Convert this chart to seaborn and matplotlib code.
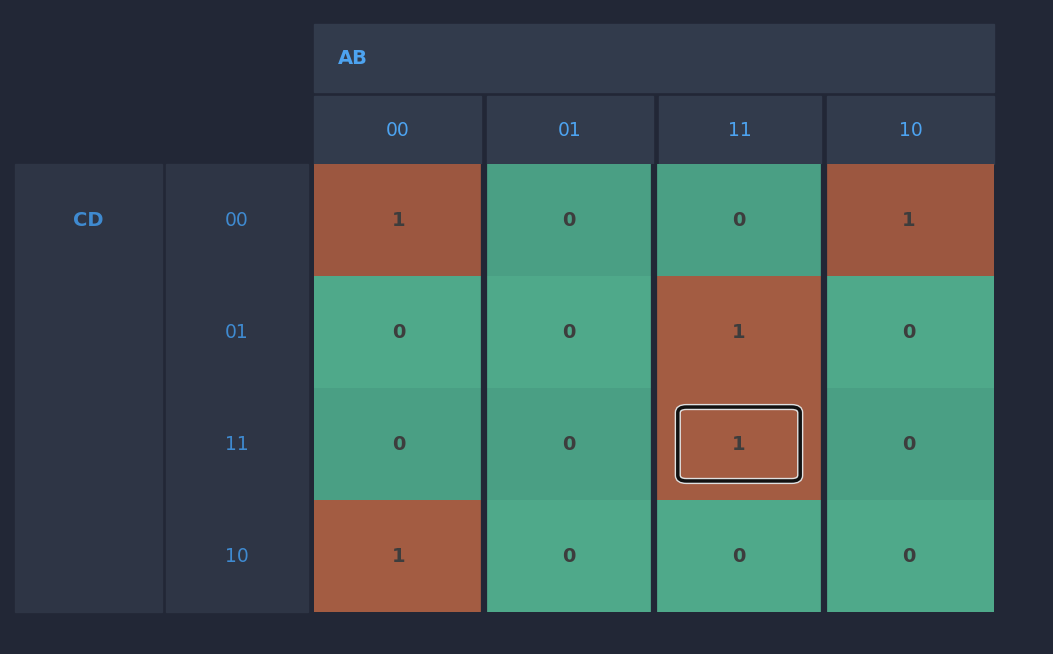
import numpy as np
import matplotlib
matplotlib.use("Agg")
import matplotlib.pyplot as plt
import seaborn as sns
from matplotlib.colors import ListedColormap
from matplotlib.patches import Rectangle, FancyBboxPatch

# K-map data
col_labels = ["00", "01", "11", "10"]   # AB
row_labels = ["00", "01", "11", "10"]   # CD
values = np.array([[1, 0, 0, 1],
                   [0, 0, 1, 0],
                   [0, 0, 1, 0],
                   [1, 0, 0, 0]])
# slight shade variation per cell (0 = light, 1 = dark)
shade = np.array([[1, 1, 1, 1],
                  [0, 0, 0, 0],
                  [1, 1, 0, 1],
                  [0, 0, 0, 0]])
highlight = (2, 2)

bg = "#222736"
head = "#323b4c"
side = "#2e3545"
blue = "#4da3f0"
blue2 = "#3f8ad0"
colors = ["#4fa98a", "#4a9f84", "#a35c42", "#9c5740"]

W, H = 1053, 654
fig = plt.figure(figsize=(W / 100, H / 100), dpi=100, facecolor=bg)

# overlay in pixel coords for headers
ov = fig.add_axes([0, 0, 1, 1])
ov.set_xlim(0, W)
ov.set_ylim(H, 0)
ov.axis("off")
ov.set_facecolor(bg)

col_x = [(314, 481), (487, 653), (659, 821), (827, 994)]
ov.add_patch(Rectangle((314, 24), 680, 68, color=head))
ov.text(338, 58, "AB", color=blue, fontsize=14, fontweight="bold", va="center")
for (x0, x1), lab in zip(col_x, col_labels):
    ov.add_patch(Rectangle((x0, 96), x1 - x0, 68, color=head))
    ov.text((x0 + x1) / 2, 130, lab, color=blue, fontsize=13.5, ha="center", va="center")
ov.add_patch(Rectangle((15, 164), 147, 448, color=side))
ov.text(88, 220, "CD", color=blue2, fontsize=14, fontweight="bold", ha="center", va="center")
ov.add_patch(Rectangle((166, 164), 142, 448, color=side))
for i, lab in enumerate(row_labels):
    ov.text(237, 220 + 112 * i, lab, color=blue2, fontsize=13.5, ha="center", va="center")

# heatmap cells
ax = fig.add_axes([314 / W, 1 - 612 / H, 680 / W, 448 / H])
codes = values * 2 + shade
sns.heatmap(codes, ax=ax, cmap=ListedColormap(colors), vmin=-0.5, vmax=3.5,
            cbar=False, annot=values, fmt="d", xticklabels=False, yticklabels=False,
            annot_kws={"color": "#3d3d3d", "fontsize": 14, "fontweight": "bold"})
ax.axis("off")
for c in range(1, 4):
    ax.axvline(c, color=bg, lw=4.5)

r, c = highlight
ax.add_patch(FancyBboxPatch((c + 0.14, r + 0.17), 0.72, 0.66,
                            boxstyle="round,pad=0,rounding_size=0.05",
                            fc="none", ec="#e0e0e0", lw=4.5, zorder=5))
ax.add_patch(FancyBboxPatch((c + 0.14, r + 0.17), 0.72, 0.66,
                            boxstyle="round,pad=0,rounding_size=0.05",
                            fc="none", ec="#111111", lw=2.5, zorder=6))

fig.savefig("out.png", dpi=100, facecolor=bg)
